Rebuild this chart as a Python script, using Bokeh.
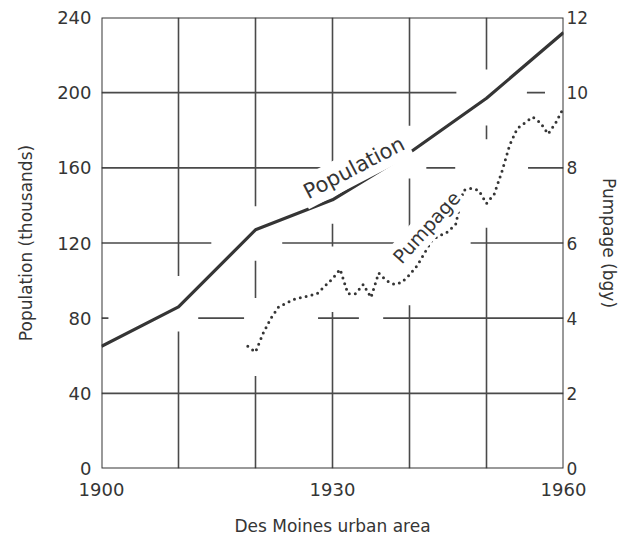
import math
import numpy as np
from bokeh.plotting import figure
from bokeh.models import Range1d, LinearAxis, FixedTicker, Label
from bokeh.embed import file_html
from bokeh.resources import INLINE

# ---- data ----
pop_years = [1900, 1910, 1920, 1930, 1940, 1950, 1960]
population = [65, 86, 127, 143, 168, 197, 232]          # thousands

pump_years = list(range(1919, 1961))
pumpage = [3.25, 3.1, 3.6, 4.0, 4.3, 4.4, 4.5, 4.55, 4.6, 4.65,
           4.85, 5.05, 5.3, 4.65, 4.65, 4.9, 4.55, 5.2, 5.0, 4.9,
           4.95, 5.15, 5.4, 5.75, 6.1, 6.2, 6.3, 6.5, 7.4, 7.45,
           7.4, 7.05, 7.3, 7.9, 8.6, 9.05, 9.2, 9.35, 9.2, 8.9,
           9.2, 9.6]                                          # bgy

x_ticks = [1900, 1910, 1920, 1930, 1940, 1950, 1960]
x_labeled = [1900, 1930, 1960]
pop_ticks = [0, 40, 80, 120, 160, 200, 240]
pump_ticks = [0, 2, 4, 6, 8, 10, 12]

INK = "#353535"
GRID = "#4a4a4a"
FONT = "DejaVu Sans"

W, H = 622, 538
BL, BR, BT, BB = 101, 55, 17, 68
FW, FH = W - BL - BR, H - BT - BB          # frame size in pixels

x0, x1 = x_ticks[0], x_ticks[-1]
y0, y1 = pop_ticks[0], pop_ticks[-1]
p0, p1 = pump_ticks[0], pump_ticks[-1]

p = figure(width=W, height=H, output_backend="svg", toolbar_location=None,
           x_range=Range1d(x0, x1), y_range=Range1d(y0, y1),
           min_border_left=BL, min_border_right=BR, min_border_top=BT,
           min_border_bottom=BB)
p.extra_y_ranges = {"pump": Range1d(p0, p1)}

p.background_fill_color = "white"
p.border_fill_color = "white"
p.outline_line_color = None
p.grid.visible = False

# axes
p.xaxis.ticker = FixedTicker(ticks=x_ticks)
p.xaxis.major_label_overrides = {t: "" for t in x_ticks if t not in x_labeled}
p.xaxis.axis_label = "Des Moines urban area"
p.yaxis.ticker = FixedTicker(ticks=pop_ticks)
p.yaxis.axis_label = "Population (thousands)"

right = LinearAxis(y_range_name="pump", ticker=FixedTicker(ticks=pump_ticks),
                   axis_label="Pumpage (bgy)")
p.add_layout(right, "right")

for ax in p.xaxis + p.yaxis + [right]:
    ax.major_tick_out = 0
    ax.major_tick_in = 0
    ax.minor_tick_out = 0
    ax.minor_tick_in = 0
    ax.axis_line_color = None
    ax.major_label_text_font = FONT
    ax.major_label_text_font_size = "18px"
    ax.major_label_text_color = INK
    ax.axis_label_text_font = FONT
    ax.axis_label_text_font_size = "17px"
    ax.axis_label_text_font_style = "normal"
    ax.axis_label_text_color = INK

p.xaxis.major_label_standoff = 14
p.xaxis.axis_label_standoff = 17
p.yaxis.major_label_standoff = 10
p.yaxis.axis_label_standoff = 18
right.major_label_standoff = 3
right.axis_label_standoff = 8
right.major_label_text_font_size = "17px"
right.axis_label_orientation = "vertical"


# ---- grid lines, broken where they pass close to the curves ----
def px_x(xs):
    return (np.asarray(xs, float) - x0) / (x1 - x0) * FW


def px_y(ys, lo, hi):
    return (np.asarray(ys, float) - lo) / (hi - lo) * FH


curves = [
    (px_x(pop_years), px_y(population, y0, y1), 22.0),
    (px_x(pump_years), px_y(pumpage, p0, p1), 24.0),
]


def near_curves(qx, qy):
    mask = np.zeros(qx.shape, bool)
    for cx, cy, r in curves:
        ax_, ay_ = cx[:-1, None], cy[:-1, None]
        bx_, by_ = cx[1:, None], cy[1:, None]
        dx, dy = bx_ - ax_, by_ - ay_
        t = ((qx[None] - ax_) * dx + (qy[None] - ay_) * dy) / (dx * dx + dy * dy)
        t = np.clip(t, 0, 1)
        d = np.hypot(qx[None] - (ax_ + t * dx), qy[None] - (ay_ + t * dy)).min(axis=0)
        mask |= d < r
    return mask


n = 1200
for xv in x_ticks[1:-1]:
    ys = np.linspace(y0, y1, n)
    m = near_curves(np.full(n, px_x([xv])[0]), px_y(ys, y0, y1))
    ys = np.where(m, np.nan, ys)
    p.line(np.full(n, xv), ys, line_color=GRID, line_width=1.6)
for yv in pop_ticks[1:-1]:
    xs = np.linspace(x0, x1, n)
    m = near_curves(px_x(xs), np.full(n, px_y([yv], y0, y1)[0]))
    xs = np.where(m, np.nan, xs)
    p.line(xs, np.full(n, yv), line_color=GRID, line_width=1.6)

# frame
p.quad(left=[x0], right=[x1], bottom=[y0], top=[y1], fill_color=None,
       line_color=INK, line_width=2)

# curves
p.line(pop_years, population, line_color=INK, line_width=3.2, line_join="round")
p.line(pump_years, pumpage, y_range_name="pump", line_color=INK, line_width=3,
       line_dash="0 6", line_cap="round", line_join="round")

# curve labels
lab_pop = Label(x=1932.8, y=160, text="Population", angle=math.radians(27.5),
                text_align="center", text_baseline="middle", text_font=FONT,
                text_font_size="21px", text_color=INK,
                background_fill_color="white", padding=4)
lab_pump = Label(x=1942.2, y=6.42, y_range_name="pump", text="Pumpage",
                 angle=math.radians(48), text_align="center", text_baseline="middle",
                 text_font=FONT, text_font_size="19px", text_color=INK,
                 background_fill_color="white", padding=3)
p.add_layout(lab_pop)
p.add_layout(lab_pump)

open("out.html", "w").write(file_html(p, INLINE))
